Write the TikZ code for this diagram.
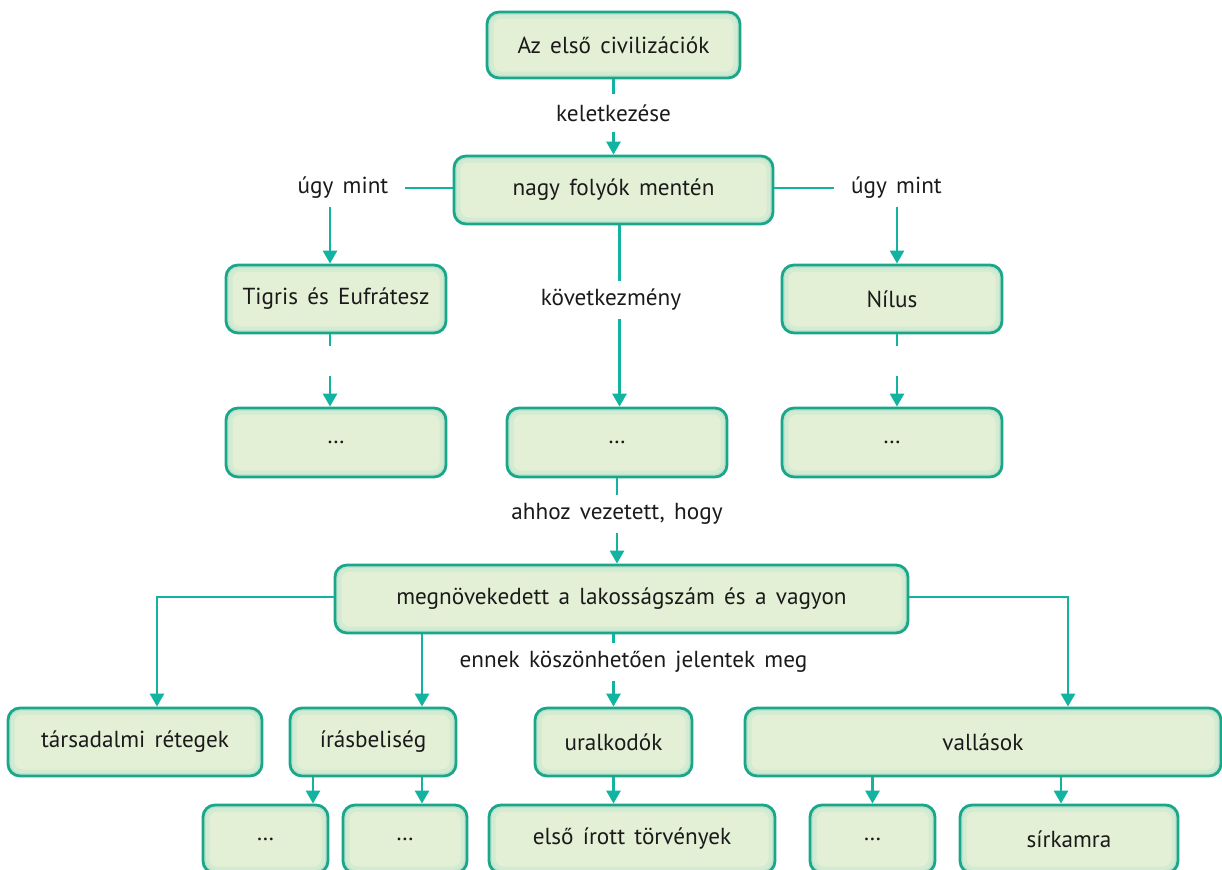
\documentclass[tikz,border=0pt]{standalone}
\usepackage{fontspec}
\setmainfont{PT Sans}[WordSpace=1.5]
\usepackage{tikz}
\usepackage{xcolor}
\usetikzlibrary{arrows.meta}

\definecolor{boxline}{HTML}{1AA68A}
\definecolor{linkc}{HTML}{12B3A0}
\definecolor{boxfill}{HTML}{E3F0D6}
\definecolor{boxmid}{HTML}{D2EBD2}
\definecolor{boxedge}{HTML}{BEE5CC}
\definecolor{ink}{HTML}{1A1A1A}

\begin{document}
\begin{tikzpicture}[
  box/.style={draw=boxline, line width=1.6pt, rounded corners=0.24cm, fill=boxedge,
    minimum height=1.36cm, text=ink, font=\fontsize{13.2}{15}\selectfont,
    path picture={
      \fill[boxmid, rounded corners=0.2cm]
        ([shift={(0.06,-0.06)}]path picture bounding box.north west) rectangle
        ([shift={(-0.06,0.06)}]path picture bounding box.south east);
      \fill[boxfill, rounded corners=0.16cm]
        ([shift={(0.13,-0.13)}]path picture bounding box.north west) rectangle
        ([shift={(-0.13,0.13)}]path picture bounding box.south east);}},
  linktext/.style={text=ink, font=\fontsize{13.2}{15}\selectfont, inner xsep=0.33cm,
    inner ysep=0pt, minimum height=0.74cm},
  conn/.style={draw=linkc, line width=1.6pt},
  arr/.style={conn, -{Triangle[length=0.26cm,width=0.28cm]}}]
\useasboundingbox (0,0) rectangle (24.44,-17.4);

% Felső szint
\node[box, minimum width=5.06cm, minimum height=1.32cm] (top) at (12.27,-0.90) {Az első civilizációk};
\node[linktext] (kel) at (12.27,-2.26) {keletkezése};
\node[box, minimum width=6.38cm] (nagy) at (12.27,-3.80) {nagy folyók mentén};
\node[linktext] (ugyL) at (6.86,-3.76) {úgy mint};
\node[linktext] (ugyR) at (17.93,-3.76) {úgy mint};

\draw[conn] (top) -- (kel);
\draw[arr] (kel) -- (nagy);
\draw[conn] (nagy.west |- ugyL) -- (ugyL.east);
\draw[conn] (nagy.east |- ugyR) -- (ugyR.west);

% Folyók
\node[box, minimum width=4.40cm] (tigris) at (6.72,-5.98) {Tigris és Eufrátesz};
\node[box, minimum width=4.40cm] (nilus) at (17.84,-5.98) {Nílus};
\node[linktext] (kov) at (12.22,-6.00) {következmény};

\draw[arr] ([xshift=-0.12cm]tigris.north |- ugyL.south) -- ([xshift=-0.12cm]tigris.north);
\draw[arr] ([xshift=0.10cm]nilus.north |- ugyR.south) -- ([xshift=0.10cm]nilus.north);
\coordinate (kovT) at ([xshift=0.12cm]nagy.south |- kov.north);
\draw[conn] (kovT |- nagy.south) -- (kovT);

% Pontozott dobozok
\node[box, minimum width=4.40cm, minimum height=1.38cm] (dotsA) at (6.72,-8.85) {\dots};
\node[box, minimum width=4.40cm, minimum height=1.38cm] (dotsB) at (12.34,-8.85) {\dots};
\node[box, minimum width=4.40cm, minimum height=1.38cm] (dotsC) at (17.84,-8.85) {\dots};

\draw[arr] (kovT |- kov.south) -- (kovT |- dotsB.north);
\draw[conn] ([xshift=-0.12cm]tigris.south) -- ([xshift=-0.12cm,yshift=-0.24cm]tigris.south);
\draw[arr] ([xshift=-0.12cm,yshift=0.62cm]dotsA.north) -- ([xshift=-0.12cm]dotsA.north);
\draw[conn] ([xshift=0.10cm]nilus.south) -- ([xshift=0.10cm,yshift=-0.24cm]nilus.south);
\draw[arr] ([xshift=0.10cm,yshift=0.62cm]dotsC.north) -- ([xshift=0.10cm]dotsC.north);

% Következmények
\node[linktext] (ahhoz) at (12.34,-10.28) {ahhoz vezetett, hogy};
\node[box, minimum width=11.46cm] (megnov) at (12.43,-11.98) {megnövekedett a lakosságszám és a vagyon};
\node[linktext] (ennek) at (12.67,-13.24) {ennek köszönhetően jelentek meg};

\draw[conn] (dotsB) -- (ahhoz);
\draw[arr] (ahhoz) -- (ahhoz |- megnov.north);

\node[box, minimum width=5.08cm] (tars) at (2.70,-14.84) {társadalmi rétegek};
\node[box, minimum width=3.32cm] (iras) at (7.46,-14.84) {írásbeliség};
\node[box, minimum width=3.14cm] (ural) at (12.27,-14.84) {uralkodók};
\node[box, minimum width=9.52cm] (vall) at (19.66,-14.84) {vallások};

\draw[arr] ([yshift=0.04cm]megnov.west) -| ([xshift=0.44cm]tars.north);
\draw[arr] ([yshift=0.04cm]megnov.east) -| ([xshift=1.70cm]vall.north);
\draw[arr] ([xshift=0.98cm]iras.north |- megnov.south) -- ([xshift=0.98cm]iras.north);
\draw[conn] (ural |- megnov.south) -- (ural |- ennek.north);
\draw[arr] (ural |- ennek.south) -- (ural.north);

% Alsó sor
\node[box, minimum width=2.50cm] (dotsD) at (5.31,-16.78) {\dots};
\node[box, minimum width=2.48cm] (dotsE) at (8.10,-16.78) {\dots};
\node[box, minimum width=5.72cm] (elso) at (12.64,-16.78) {első írott törvények};
\node[box, minimum width=2.50cm] (dotsF) at (17.45,-16.78) {\dots};
\node[box, minimum width=4.36cm] (sirk) at (21.38,-16.78) {sírkamra};

\draw[arr] ([xshift=-1.20cm]iras.south) -- ([xshift=-1.20cm]iras.south |- dotsD.north);
\draw[arr] ([xshift=0.98cm]iras.south) -- ([xshift=0.98cm]iras.south |- dotsE.north);
\draw[arr] (ural.south) -- (ural.south |- elso.north);
\draw[arr] (vall.south -| dotsF) -- (dotsF.north);
\draw[arr] ([xshift=-0.16cm]vall.south -| sirk) -- ([xshift=-0.16cm]sirk.north);
\end{tikzpicture}
\end{document}
